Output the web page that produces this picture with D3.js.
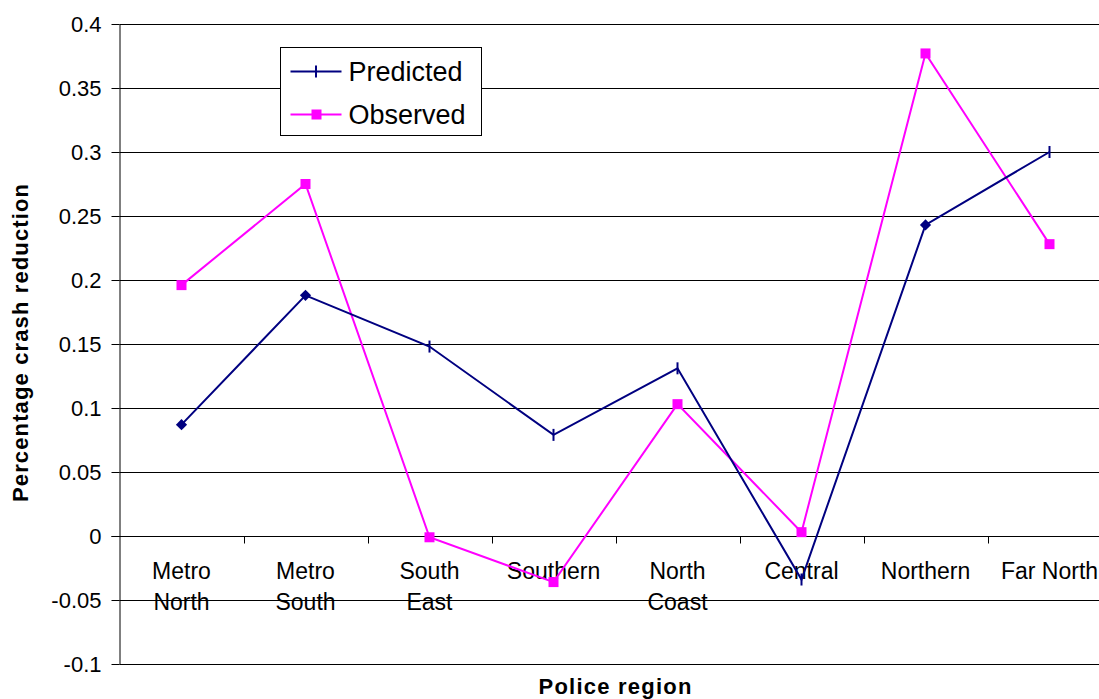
<!DOCTYPE html>
<html>
<head>
<meta charset="utf-8">
<script src="https://cdn.jsdelivr.net/npm/d3@7"></script>
<style>
  html, body { margin: 0; padding: 0; background: #fff; overflow: hidden; }
  svg { display: block; font-family: "Liberation Sans", Arial, sans-serif; }
</style>
</head>
<body>
<svg id="chart" width="1099" height="699"></svg>
<script>
// Police regions (multi-line labels split on "\n")
const regions = ["Metro\nNorth", "Metro\nSouth", "South\nEast", "Southern", "North\nCoast", "Central", "Northern", "Far North"];
const predicted = [0.087, 0.188, 0.148, 0.079, 0.131, -0.034, 0.243, 0.300];
const observed  = [0.196, 0.275, -0.001, -0.036, 0.103, 0.003, 0.377, 0.228];
// marker style used for each predicted point
const predictedMarkers = ["diamond", "diamond", "tick", "tick", "tick", "tick", "diamond", "tick"];
const yTicks = [0.4, 0.35, 0.3, 0.25, 0.2, 0.15, 0.1, 0.05, 0, -0.05, -0.1];
const seriesNames = ["Predicted", "Observed"];

const NAVY = "#000080", MAGENTA = "#FF00FF";

const svg = d3.select("#chart");
const margin = { left: 119.5, top: 24, right: 1111.5, bottom: 664 };

const x = d3.scaleBand().domain(regions).range([margin.left, margin.right]).padding(0);
const y = d3.scaleLinear().domain([-0.1, 0.4]).range([margin.bottom, margin.top]);
const cx = d => x(d) + x.bandwidth() / 2;

// horizontal gridlines
svg.append("g").selectAll("line").data(yTicks).join("line")
  .attr("x1", margin.left).attr("x2", margin.right)
  .attr("y1", d => Math.round(y(d)) + 0.5).attr("y2", d => Math.round(y(d)) + 0.5)
  .attr("stroke", "#000").attr("stroke-width", 1);

// y axis (plain hyphen for negatives)
const yAxis = d3.axisLeft(y).tickValues(yTicks).tickSize(8).tickSizeOuter(0)
  .tickFormat(d => String(+d.toFixed(2)));
const gy = svg.append("g").attr("transform", `translate(${margin.left},0)`).call(yAxis);
gy.select(".domain").attr("stroke", "#000");
gy.selectAll(".tick line").attr("stroke", "#000");
gy.selectAll(".tick text").attr("x", -18).attr("dy", "0.36em")
  .attr("font-size", 22).attr("fill", "#000").attr("font-family", "Liberation Sans, Arial, sans-serif");

// category axis at zero
const y0 = Math.round(y(0)) + 0.5;
const gx = svg.append("g").attr("transform", `translate(0,${y0})`);
gx.append("line").attr("x1", margin.left - 8).attr("x2", margin.right).attr("stroke", "#000");
const bounds = d3.range(1, regions.length).map(i => margin.left + i * x.bandwidth());
gx.selectAll("line.tk").data(bounds).join("line").attr("class", "tk")
  .attr("x1", d => Math.round(d) + 0.5).attr("x2", d => Math.round(d) + 0.5)
  .attr("y1", 0).attr("y2", 7).attr("stroke", "#000");
gx.selectAll("text.cat").data(regions).join("text").attr("class", "cat")
  .attr("text-anchor", "middle").attr("font-size", 23).attr("fill", "#000")
  .attr("transform", d => `translate(${cx(d)},0)`)
  .each(function (d) {
    const lines = d.split("\n");
    d3.select(this).selectAll("tspan").data(lines).join("tspan")
      .attr("x", 0).attr("y", (l, i) => 42 + i * 31).text(l => l);
  });

// lines
const line = d3.line().x((d, i) => cx(regions[i])).y(d => y(d));
svg.append("path").datum(observed).attr("d", line)
  .attr("fill", "none").attr("stroke", MAGENTA).attr("stroke-width", 2);
svg.append("path").datum(predicted).attr("d", line)
  .attr("fill", "none").attr("stroke", NAVY).attr("stroke-width", 2);

// observed square markers
svg.append("g").selectAll("rect").data(observed).join("rect")
  .attr("x", (d, i) => cx(regions[i]) - 5).attr("y", d => y(d) - 5)
  .attr("width", 10).attr("height", 10).attr("fill", MAGENTA);

// predicted markers: diamonds and vertical ticks
const pg = svg.append("g");
predicted.forEach((v, i) => {
  const px = cx(regions[i]), py = y(v);
  if (predictedMarkers[i] === "diamond") {
    pg.append("path").attr("d", d3.symbol(d3.symbolDiamond2, 80)())
      .attr("transform", `translate(${px},${py})`).attr("fill", NAVY);
  } else {
    pg.append("line").attr("x1", px).attr("x2", px).attr("y1", py - 6).attr("y2", py + 6)
      .attr("stroke", NAVY).attr("stroke-width", 2);
  }
});

// legend
const lg = svg.append("g").attr("transform", "translate(280.5,47.5)");
lg.append("rect").attr("width", 201).attr("height", 88).attr("fill", "#fff").attr("stroke", "#000");
seriesNames.forEach((name, i) => {
  const ly = 24 + i * 43;
  const col = i === 0 ? NAVY : MAGENTA;
  lg.append("line").attr("x1", 10).attr("x2", 61).attr("y1", ly).attr("y2", ly)
    .attr("stroke", col).attr("stroke-width", 2);
  if (i === 0) {
    lg.append("line").attr("x1", 35.5).attr("x2", 35.5).attr("y1", ly - 6).attr("y2", ly + 6)
      .attr("stroke", col).attr("stroke-width", 2);
  } else {
    lg.append("rect").attr("x", 31).attr("y", ly - 5).attr("width", 10).attr("height", 10).attr("fill", col);
  }
  lg.append("text").attr("x", 68).attr("y", ly).attr("dy", "0.36em")
    .attr("font-size", 27).attr("fill", "#000").text(name);
});

// axis titles
svg.append("text").attr("transform", `translate(28,343) rotate(-90)`)
  .attr("text-anchor", "middle").attr("font-size", 22).attr("font-weight", "bold")
  .attr("textLength", 318).attr("lengthAdjust", "spacing")
  .attr("fill", "#000").text("Percentage crash reduction");
svg.append("text").attr("x", 615).attr("y", 694)
  .attr("text-anchor", "middle").attr("font-size", 22).attr("font-weight", "bold")
  .attr("textLength", 153).attr("lengthAdjust", "spacing")
  .attr("fill", "#000").text("Police region");
</script>
</body>
</html>
